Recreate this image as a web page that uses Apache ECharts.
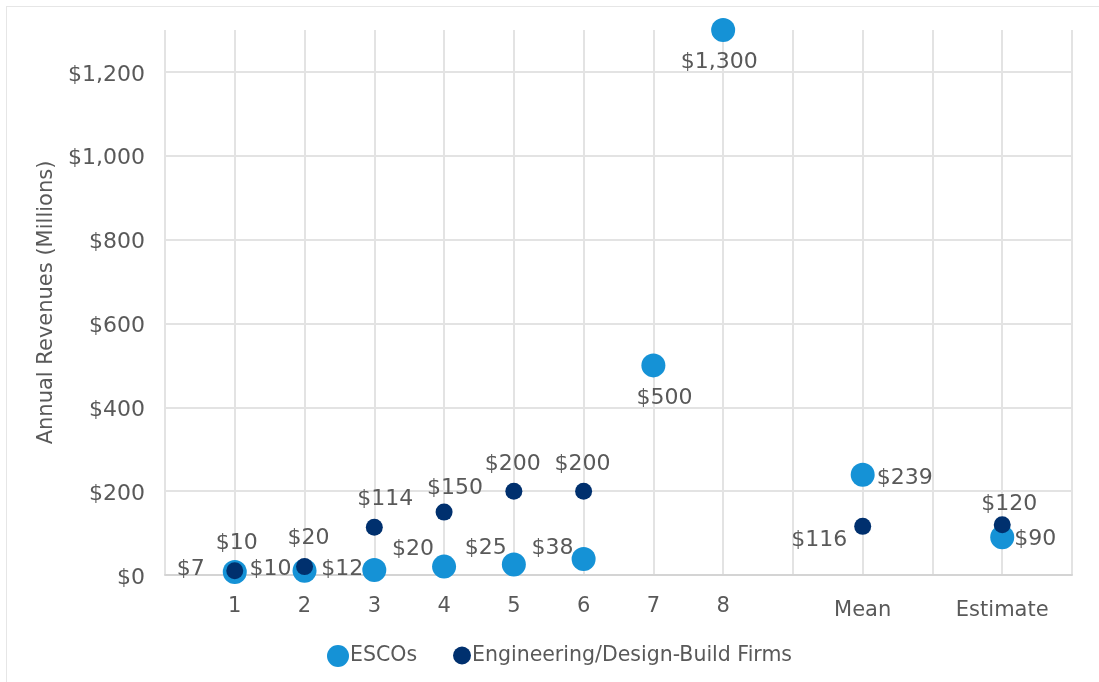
<!DOCTYPE html>
<html>
<head>
<meta charset="utf-8">
<script src="https://cdn.jsdelivr.net/npm/echarts@6/dist/echarts.min.js"></script>
<style>
  html, body { margin: 0; padding: 0; background: #fff; }
  #frame { position: absolute; left: 6px; top: 6px; width: 1093px; height: 676px;
           border-top: 1px solid #e6e6e6; border-left: 1px solid #e6e6e6; pointer-events: none; }
  #chart { width: 1099px; height: 682px; }
</style>
</head>
<body>
<div id="chart"></div>
<div id="frame"></div>
<script>
// Annual revenues (millions of dollars) by firm, plus mean and estimate
const xPositions = [1, 2, 3, 4, 5, 6, 7, 8];
const meanX = 10;
const estimateX = 12;
const xTickNames = { 1: '1', 2: '2', 3: '3', 4: '4', 5: '5', 6: '6', 7: '7', 8: '8', 10: 'Mean', 12: 'Estimate' };

const escoNames = 'ESCOs';
const escoValues = [7, 10, 12, 20, 25, 38, 500, 1300];
const escoMean = 239;
const escoEstimate = 90;

const engNames = 'Engineering/Design-Build Firms';
const engValues = [10, 20, 114, 150, 200, 200];
const engMean = 116;
const engEstimate = 120;

const yTicks = { min: 0, max: 1300, step: 200 };

const lightBlue = '#1592d6';
const navy = '#00306e';
const textGrey = '#595959';
const gridGrey = '#e3e3e3';
const FONT = '"DejaVu Sans", Verdana, sans-serif';

const money = v => '$' + v.toLocaleString('en-US');

// label placement for each ESCO point (firms 1-8, mean, estimate)
const escoLabelPlace = [
  { position: 'left', distance: 18, offset: [0, -3] },
  { position: 'left', distance: 1, offset: [0, -2] },
  { position: 'left', distance: -1, offset: [0, -1] },
  { position: 'left', distance: -2, offset: [0, -17] },
  { position: 'left', distance: -5, offset: [0, -16] },
  { position: 'left', distance: -2, offset: [0, -11] },
  { position: 'bottom', distance: 10, offset: [11, 0] },
  { position: 'bottom', distance: 9, offset: [-4, 0] },
  { position: 'right', distance: 2, offset: [0, 3] },
  { position: 'right', distance: 0, offset: [0, 2] }
];
// label placement for each engineering-firm point (firms 1-6, mean, estimate)
const engLabelPlace = [
  { position: 'top', distance: 8, offset: [2, 0] },
  { position: 'top', distance: 9, offset: [4, 0] },
  { position: 'top', distance: 8, offset: [11, 0] },
  { position: 'top', distance: 4, offset: [11, 0] },
  { position: 'top', distance: 7, offset: [-1, 0] },
  { position: 'top', distance: 7, offset: [-1, 0] },
  { position: 'left', distance: 7, offset: [0, 14] },
  { position: 'top', distance: 1, offset: [7, 0] }
];

function buildPoints(values, mean, estimate, places) {
  const xs = xPositions.slice(0, values.length).concat([meanX, estimateX]);
  const ys = values.concat([mean, estimate]);
  return xs.map((x, i) => ({
    value: [x, ys[i]],
    label: Object.assign({}, places[i])
  }));
}

const labelStyle = {
  show: true,
  color: textGrey,
  fontSize: 22,
  fontFamily: FONT,
  formatter: p => money(p.value[1])
};

const chart = echarts.init(document.getElementById('chart'));
chart.setOption({
  animation: false,
  backgroundColor: '#ffffff',
  grid: { left: 165, right: 27, top: 30, bottom: 107, containLabel: false },
  xAxis: {
    type: 'value',
    min: 0,
    max: 13,
    interval: 1,
    axisLine: { show: true, lineStyle: { color: '#d4d4d4', width: 2 } },
    axisTick: { show: false },
    splitLine: { show: true, showMinLine: true, showMaxLine: true, lineStyle: { color: gridGrey, width: 2 } },
    axisLabel: {
      margin: 21,
      color: textGrey,
      fontSize: 21,
      fontFamily: FONT,
      showMinLabel: true,
      showMaxLabel: true,
      formatter: v => {
        const name = xTickNames[v];
        if (!name) return '';
        return (v === meanX || v === estimateX) ? '{low|' + name + '}' : name;
      },
      rich: { low: { fontSize: 21, fontFamily: FONT, color: textGrey, padding: [4, 0, 0, 0] } }
    }
  },
  yAxis: {
    type: 'value',
    min: yTicks.min,
    max: yTicks.max,
    interval: yTicks.step,
    name: 'Annual Revenues (Millions)',
    nameLocation: 'middle',
    nameGap: 106,
    nameRotate: 90,
    nameTextStyle: { color: textGrey, fontSize: 21, fontFamily: FONT },
    axisLine: { show: false },
    axisTick: { show: false },
    splitLine: { show: true, showMinLine: true, showMaxLine: false, lineStyle: { color: gridGrey, width: 2 } },
    axisLabel: {
      margin: 20,
      color: textGrey,
      fontSize: 22,
      fontFamily: FONT,
      showMaxLabel: false,
      formatter: v => '{t|' + money(v) + '}',
      rich: { t: { fontSize: 22, fontFamily: FONT, color: textGrey, padding: [6, 0, 0, 0] } }
    }
  },
  legend: [
    {
      data: [escoNames],
      left: 322,
      top: 640,
      icon: 'circle',
      itemWidth: 22,
      itemHeight: 22,
      selectedMode: false,
      textStyle: { color: textGrey, fontSize: 20.5, fontFamily: FONT, padding: [0, 0, 0, -4] }
    },
    {
      data: [engNames],
      left: 448,
      top: 640,
      icon: 'circle',
      itemWidth: 18,
      itemHeight: 18,
      selectedMode: false,
      textStyle: { color: textGrey, fontSize: 20.5, fontFamily: FONT, padding: [0, 0, 0, -4] }
    }
  ],
  series: [
    {
      name: escoNames,
      type: 'scatter',
      symbol: 'circle',
      symbolSize: 24,
      itemStyle: { color: lightBlue, opacity: 1 },
      label: labelStyle,
      data: buildPoints(escoValues, escoMean, escoEstimate, escoLabelPlace),
      z: 2
    },
    {
      name: engNames,
      type: 'scatter',
      symbol: 'circle',
      symbolSize: 17,
      itemStyle: { color: navy, opacity: 1 },
      label: labelStyle,
      data: buildPoints(engValues, engMean, engEstimate, engLabelPlace),
      z: 3
    }
  ]
});
</script>
</body>
</html>
